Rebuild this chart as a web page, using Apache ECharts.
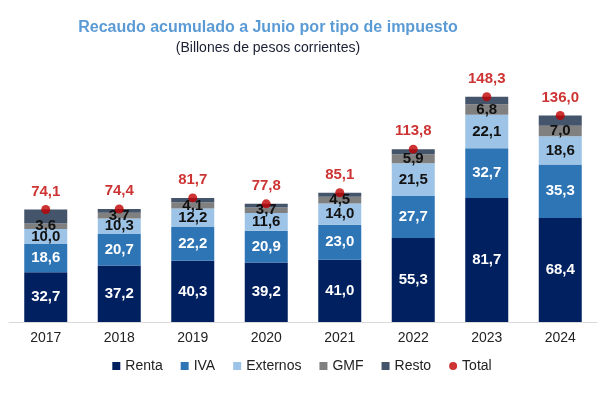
<!DOCTYPE html>
<html><head><meta charset="utf-8">
<script src="https://cdn.jsdelivr.net/npm/echarts@6/dist/echarts.min.js"></script>
<style>html,body{margin:0;padding:0;background:#fff}#c{width:604px;height:394px}</style>
</head><body><div id="c"></div>
<script>
const years = ['2017','2018','2019','2020','2021','2022','2023','2024'];
const renta = [32.7, 37.2, 40.3, 39.2, 41.0, 55.3, 81.7, 68.4];
const iva = [18.6, 20.7, 22.2, 20.9, 23.0, 27.7, 32.7, 35.3];
const externos = [10.0, 10.3, 12.2, 11.6, 14.0, 21.5, 22.1, 18.6];
const gmf = [3.6, 3.7, 4.1, 3.7, 4.5, 5.9, 6.8, 7.0];
const resto = [9.2, 2.5, 2.9, 2.4, 2.6, 3.4, 5.0, 6.7];
const total = [74.1, 74.4, 81.7, 77.8, 85.1, 113.8, 148.3, 136.0];

const fmt = p => p.value.toFixed(1).replace('.', ',');
const font = 'Liberation Sans, Arial, sans-serif';
function barSeries(name, data, color, labelColor) {
  return {
    name, type: 'bar', stack: 's', data, barWidth: 43,
    itemStyle: { color },
    label: labelColor ? { show: true, position: 'inside', color: labelColor, fontWeight: 'bold', fontSize: 15, fontFamily: font, formatter: fmt } : { show: false },
    emphasis: { disabled: true }
  };
}
const chart = echarts.init(document.getElementById('c'));
chart.setOption({
  animation: false,
  title: {
    text: 'Recaudo acumulado a Junio por tipo de impuesto',
    subtext: '(Billones de pesos corrientes)',
    left: 263, textAlign: 'center', top: 15, itemGap: 5,
    textStyle: { color: '#5B9BD5', fontSize: 16, fontWeight: 'bold', fontFamily: font },
    subtextStyle: { color: '#1A1F33', fontSize: 14, fontFamily: font }
  },
  legend: {
    bottom: 16, left: 'center', itemWidth: 8, itemHeight: 8, itemGap: 18,
    textStyle: { fontSize: 14, color: '#222', fontFamily: font },
    data: [
      { name: 'Renta', icon: 'rect' }, { name: 'IVA', icon: 'rect' }, { name: 'Externos', icon: 'rect' },
      { name: 'GMF', icon: 'rect' }, { name: 'Resto', icon: 'rect' }, { name: 'Total', icon: 'circle' }
    ]
  },
  grid: { left: 9, right: 7, top: 79, bottom: 72 },
  xAxis: {
    type: 'category', data: years,
    axisLine: { lineStyle: { color: '#D9D9D9' } },
    axisTick: { show: false },
    axisLabel: { fontSize: 14, color: '#222', fontFamily: font, margin: 9 }
  },
  yAxis: { type: 'value', min: 0, max: 160, show: false, splitLine: { show: false } },
  series: [
    barSeries('Renta', renta, '#002060', '#fff'),
    barSeries('IVA', iva, '#2E75B6', '#fff'),
    barSeries('Externos', externos, '#9DC3E6', '#111'),
    barSeries('GMF', gmf, '#808080', '#111'),
    barSeries('Resto', resto, '#44546A', null),
    {
      name: 'Total', type: 'scatter', data: total, symbolSize: 9,
      itemStyle: { color: '#C00000' }, z: 10,
      label: { show: true, position: 'top', distance: 6, color: '#C00000', fontWeight: 'bold', fontSize: 15, fontFamily: font, formatter: fmt },
      emphasis: { disabled: true }
    }
  ]
});
</script></body></html>
